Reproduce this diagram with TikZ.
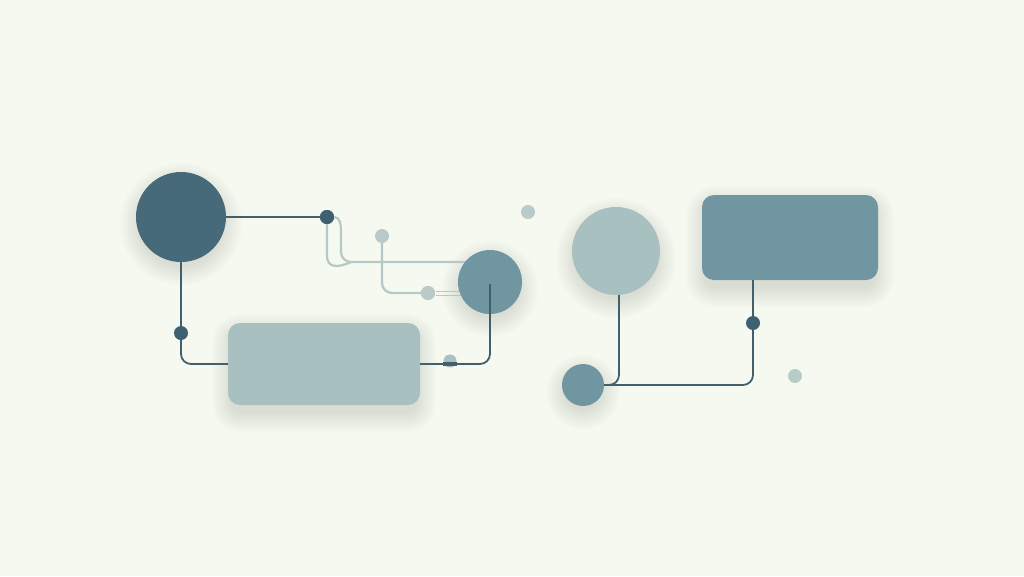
\documentclass[tikz,border=0pt]{standalone}
\definecolor{bg}{RGB}{246,249,240}
\definecolor{deep}{RGB}{70,106,122}
\definecolor{mid}{RGB}{111,150,161}
\definecolor{pale}{RGB}{169,192,192}
\definecolor{dotdark}{RGB}{62,96,112}
\definecolor{linedark}{RGB}{66,96,108}
\definecolor{linelight}{RGB}{180,200,198}
\definecolor{dotlight}{RGB}{184,203,201}
\colorlet{shadc}{deep!60!black}
\newcommand\myshadC[3]{\foreach \k in {0,...,13}{\fill[shadc,opacity=0.009] (#1,#2+7) circle ({#3-3+\k*1.5});}}
\newcommand\myshadR[4]{\foreach \k in {0,...,13}{\fill[shadc,opacity=0.009,rounded corners={10pt+\k*1.5pt}] (#1+3-\k*1.5,#2+10-\k*1.5) rectangle (#3-3+\k*1.5,#4+8+\k*1.5);}}
\begin{document}
\begin{tikzpicture}[x=1pt,y=-1pt,
  blob/.style={circle,inner sep=0pt,draw=none},
  card/.style={rectangle,rounded corners=12pt,inner sep=0pt,draw=none},
  pin/.style={circle,inner sep=0pt,minimum size=14pt,draw=none},
  dk/.style={draw=linedark,line width=1.8pt,rounded corners=10pt},
  lt/.style={draw=linelight,line width=2.2pt}]
\fill[bg] (0,0) rectangle (1024,576);
\useasboundingbox (0,0) rectangle (1024,576);

% named points
\coordinate (a1) at (341,232);
\coordinate (a2) at (480,262);
\coordinate (b2) at (351,262);
\coordinate (c1) at (382,293);
\coordinate (d1) at (436,291);
\coordinate (d2) at (470,291);
\coordinate (d3) at (436,295);
\coordinate (d4) at (470,295);
\coordinate (e1) at (181,364);
\coordinate (f0) at (490,284);
\coordinate (f1) at (490,364);
\coordinate (g1) at (619,385);
\coordinate (h1) at (753,385);

% shadows
\myshadC{181}{217}{45}
\myshadC{490}{282}{32}
\myshadC{616}{251}{44}
\myshadC{583}{385}{21}
\myshadR{228}{323}{420}{405}
\myshadR{702}{195}{878}{280}

% light lines (behind shapes)
\node[pin,fill=dotdark] (dot1) at (327,217) {};
\node[pin,fill=dotlight] (dot2) at (382,236) {};
\node[pin,fill=dotlight] (dot3) at (428,293) {};
\draw[lt] (dot1.east) to[out=0,in=90] (a1) -- (341,252) to[out=-90,in=180] (b2) -- (a2);
\draw[lt] (dot1.south) -- (327,256) .. controls (327,268) and (338,268) .. (b2);
\draw[lt,rounded corners=10pt] (dot2.south) -- (c1) -- (dot3.west);
\draw[draw=linelight,line width=1pt] (d1) -- (d2) (d3) -- (d4);
\node[pin,fill=dotlight] at (dot3) {};

% shapes
\node[blob,fill=deep,minimum size=90pt] (big) at (181,217) {};
\node[blob,fill=mid,minimum size=64pt] (med) at (490,282) {};
\node[card,fill=pale,minimum width=192pt,minimum height=82pt] (rl) at (324,364) {};
\node[blob,fill=pale,minimum size=88pt] (lc) at (616,251) {};
\node[card,fill=mid,minimum width=176pt,minimum height=85pt] (rr) at (790,237.5) {};
\node[blob,fill=mid,minimum size=42pt] (sm) at (583,385) {};

% dark connectors
\draw[dk] (big.east) -- (dot1.west);
\draw[dk] (big.south) -- (e1) -- (rl.west);
\draw[dk] (f0) -- (f1) -- (rl.east);
\draw[dk] (lc.south -| 619,0) -- (g1) -- (sm.east);
\draw[dk] (sm.east) -- (h1) -- (rr.south -| 753,0);

% dots
\node[pin,fill=dotdark] at (dot1) {};
\node[pin,fill=dotdark] (dot4) at (181,333) {};
\node[pin,fill=dotdark] (dot5) at (753,323) {};
\node[pin,fill=dotlight] (dot6) at (528,212) {};
\node[pin,fill=dotlight] (dot7) at (795,376) {};
\node[pin,fill=pale,minimum size=13pt] (cap) at (450,361) {};
\node[rectangle,fill=linedark,minimum width=14pt,minimum height=4pt,inner sep=0pt] (capb) at (450,364) {};
\end{tikzpicture}
\end{document}
